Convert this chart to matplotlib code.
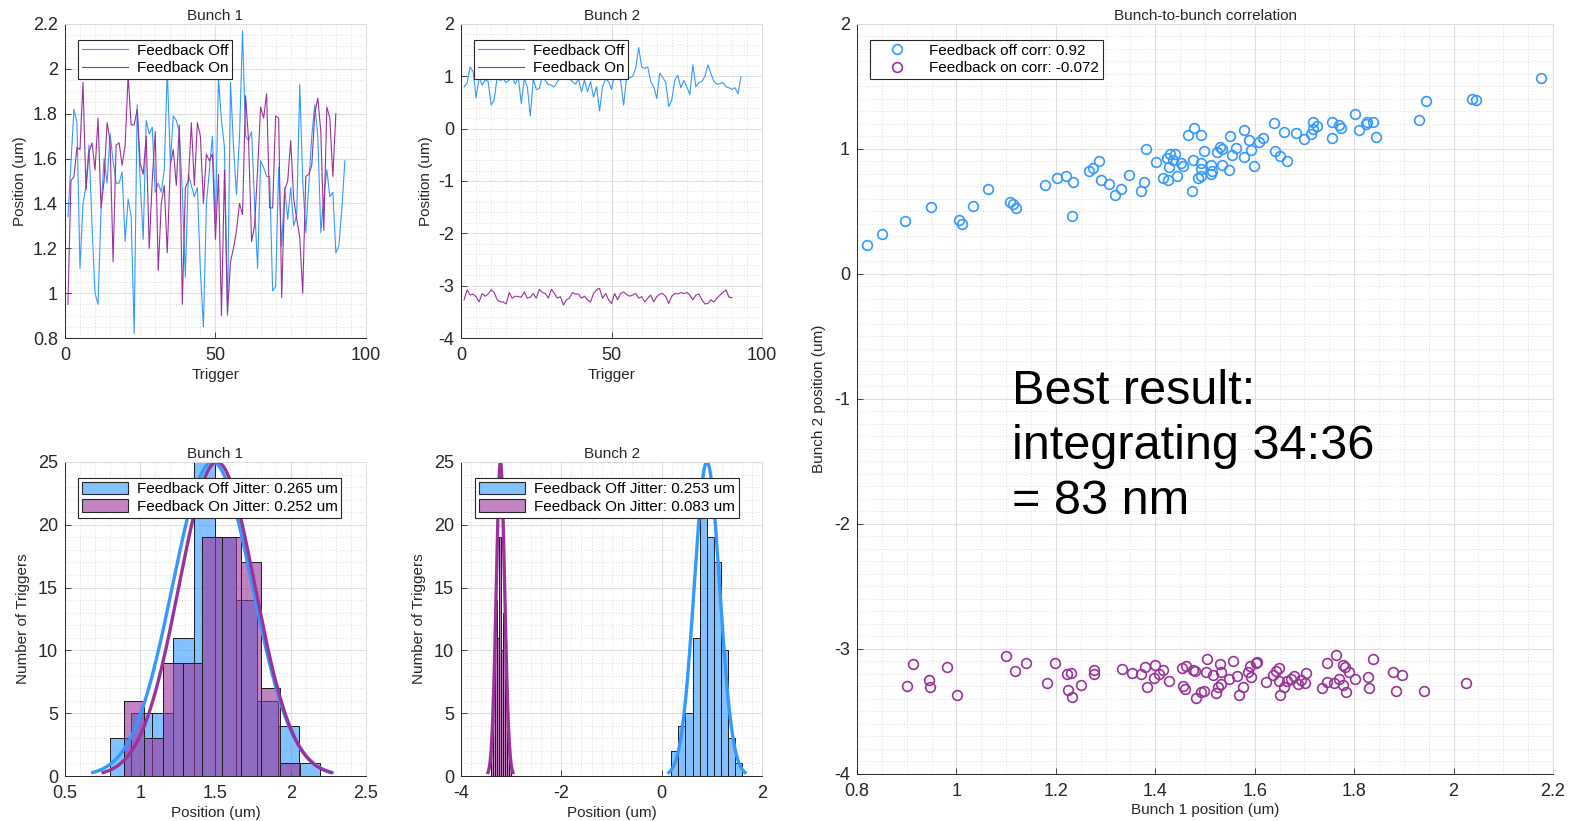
import numpy as np
import matplotlib
matplotlib.use('Agg')
import matplotlib.pyplot as plt
from matplotlib.ticker import MultipleLocator, FormatStrFormatter
from matplotlib.patches import Patch

plt.rcParams['font.family'] = ['Liberation Sans', 'DejaVu Sans']
plt.rcParams['axes.unicode_minus'] = False

# ---------------- data ----------------
# bunch 1 position per trigger (um)
b1_off = [1.34, 1.58, 1.82, 1.76, 1.11, 1.40, 1.48, 1.66, 1.30, 1.00,
          0.95, 1.37, 1.60, 1.49, 1.71, 1.59, 1.49, 1.49, 1.54, 1.23,
          1.42, 1.34, 0.82, 1.84, 1.50, 1.24, 1.77, 1.71, 1.74, 1.45,
          1.49, 1.45, 1.55, 2.00, 1.58, 1.79, 1.77, 1.72, 1.45, 1.07,
          1.53, 1.48, 1.43, 1.47, 1.10, 0.85, 1.40, 1.55, 1.70, 1.31,
          1.96, 1.77, 1.65, 0.90, 1.94, 1.65, 1.44, 1.70, 2.17, 1.70,
          1.68, 1.72, 1.40, 1.11, 1.59, 1.56, 1.52, 1.52, 1.01, 1.03,
          1.56, 1.21, 1.47, 1.33, 1.47, 1.30, 1.35, 1.93, 1.50, 1.27,
          1.48, 1.70, 1.84, 1.70, 1.27, 1.43, 1.55, 1.43, 1.45, 1.18,
          1.21, 1.38, 1.59]
b1_on = [0.95, 1.50, 1.52, 1.65, 1.64, 1.94, 1.46, 1.63, 1.67, 1.55,
         1.78, 1.38, 1.50, 1.76, 1.68, 1.14, 1.66, 1.67, 1.57, 1.66,
         1.97, 1.75, 1.75, 1.82, 1.58, 1.53, 1.70, 1.20, 1.50, 1.72,
         1.10, 1.40, 1.48, 1.18, 1.57, 1.64, 1.48, 1.75, 0.95, 1.47,
         1.50, 1.76, 1.48, 1.76, 1.70, 1.40, 1.62, 1.59, 1.62, 1.24,
         1.53, 0.90, 1.55, 0.91, 1.14, 1.20, 1.28, 1.40, 1.35, 1.88,
         1.68, 1.23, 1.30, 1.55, 1.83, 1.78, 1.89, 1.38, 1.38, 1.79,
         1.78, 0.98, 1.46, 1.50, 1.68, 1.42, 1.33, 1.25, 1.00, 1.52,
         1.53, 1.57, 1.80, 1.87, 1.72, 1.28, 1.83, 1.78, 1.52, 1.80]

# bunch 2 position per trigger (um)
b2_off = [0.80, 0.87, 1.18, 1.09, 0.59, 0.99, 0.83, 0.93, 0.90, 0.45,
          0.55, 0.99, 0.92, 0.95, 0.88, 0.93, 1.00, 0.85, 0.98, 0.48,
          0.95, 0.80, 0.24, 0.95, 0.75, 0.76, 1.02, 0.92, 0.84, 0.83,
          0.80, 0.90, 0.97, 1.05, 1.00, 0.95, 0.90, 0.85, 0.95, 0.70,
          0.93, 0.70, 0.90, 0.60, 0.80, 0.34, 0.80, 0.95, 0.90, 0.75,
          1.05, 0.96, 0.92, 0.45, 0.98, 0.97, 1.00, 1.15, 1.55, 1.18,
          1.15, 1.18, 0.90, 0.80, 0.58, 1.06, 0.98, 0.88, 0.42, 0.55,
          0.93, 1.02, 0.78, 0.92, 0.80, 0.65, 1.22, 0.80, 0.88, 0.90,
          1.00, 1.22, 1.05, 0.90, 0.85, 0.86, 0.88, 0.80, 0.78, 0.75,
          0.78, 0.67, 0.99]
b2_on = [-3.27, -3.08, -3.18, -3.16, -3.21, -3.31, -3.15, -3.20, -3.16, -3.08,
         -3.13, -3.27, -3.31, -3.31, -3.35, -3.13, -3.24, -3.20, -3.21, -3.22,
         -3.12, -3.24, -3.22, -3.15, -3.24, -3.07, -3.13, -3.15, -3.24, -3.07,
         -3.15, -3.24, -3.21, -3.37, -3.27, -3.24, -3.13, -3.16, -3.16, -3.24,
         -3.20, -3.27, -3.31, -3.15, -3.08, -3.05, -3.24, -3.15, -3.27, -3.34,
         -3.15, -3.27, -3.15, -3.12, -3.17, -3.20, -3.18, -3.15, -3.24, -3.21,
         -3.31, -3.24, -3.18, -3.31, -3.21, -3.16, -3.15, -3.21, -3.34, -3.20,
         -3.15, -3.16, -3.13, -3.15, -3.13, -3.18, -3.27, -3.18, -3.16, -3.27,
         -3.35, -3.34, -3.27, -3.31, -3.24, -3.18, -3.13, -3.08, -3.22, -3.23]

# histogram bins (edges) and counts
h1_off_edges = [0.797, 0.937, 1.076, 1.216, 1.355, 1.495, 1.634, 1.774, 1.913, 2.053, 2.192]
h1_off_counts = [3, 5, 5, 11, 25, 19, 14, 6, 4, 1]
h1_on_edges = [0.894, 1.023, 1.153, 1.282, 1.412, 1.541, 1.670, 1.800, 1.929, 2.059]
h1_on_counts = [6, 3, 9, 9, 19, 19, 17, 7, 1]
h2_off_edges = [0.19, 0.331, 0.472, 0.613, 0.754, 0.895, 1.036, 1.177, 1.318, 1.459, 1.60]
h2_off_counts = [2, 4, 5, 11, 21, 19, 17, 10, 3, 1]
h2_on_edges = [-3.40, -3.36, -3.32, -3.28, -3.24, -3.20, -3.16, -3.12, -3.08, -3.04, -3.00]
h2_on_counts = [2, 8, 14, 11, 19, 10, 13, 8, 4, 1]

# gaussian fit parameters (mean, jitter)
fit1_off = (1.48, 0.265)
fit1_on = (1.51, 0.252)
fit2_off = (0.90, 0.253)
fit2_on = (-3.215, 0.083)
fit_peak = 25

# bunch-to-bunch scatter
sc_off_x = [0.821, 0.851, 0.896, 0.949, 1.005, 1.012, 1.034, 1.063, 1.108, 1.114,
            1.120, 1.179, 1.202, 1.221, 1.234, 1.232, 1.267, 1.274, 1.286, 1.290,
            1.307, 1.318, 1.330, 1.347, 1.371, 1.377, 1.381, 1.401, 1.416, 1.425,
            1.423, 1.429, 1.427, 1.436, 1.440, 1.444, 1.451, 1.455, 1.466, 1.477,
            1.475, 1.473, 1.491, 1.497, 1.492, 1.492, 1.486, 1.492, 1.512, 1.515,
            1.513, 1.524, 1.531, 1.535, 1.534, 1.549, 1.550, 1.554, 1.562, 1.578,
            1.579, 1.589, 1.592, 1.599, 1.608, 1.616, 1.639, 1.641, 1.650, 1.664,
            1.658, 1.684, 1.699, 1.714, 1.718, 1.717, 1.725, 1.756, 1.756, 1.770,
            1.774, 1.801, 1.809, 1.823, 1.825, 1.838, 1.844, 1.930, 1.944, 2.037,
            2.046, 2.175]
sc_off_y = [0.229, 0.323, 0.427, 0.534, 0.433, 0.401, 0.547, 0.678, 0.577, 0.561,
            0.529, 0.713, 0.769, 0.782, 0.734, 0.465, 0.820, 0.844, 0.903, 0.750,
            0.721, 0.630, 0.678, 0.788, 0.660, 0.734, 1.001, 0.895, 0.766, 0.750,
            0.927, 0.961, 0.852, 0.911, 0.961, 0.785, 0.884, 0.860, 1.114, 1.170,
            0.913, 0.665, 1.114, 0.985, 0.884, 0.838, 0.764, 0.782, 0.868, 0.822,
            0.798, 0.977, 1.012, 1.001, 0.870, 0.833, 1.103, 0.953, 1.004, 1.151,
            0.932, 1.068, 0.988, 0.860, 1.055, 1.089, 1.204, 0.980, 0.943, 0.903,
            1.132, 1.127, 1.076, 1.121, 1.156, 1.218, 1.186, 1.215, 1.087, 1.188,
            1.170, 1.282, 1.148, 1.196, 1.218, 1.215, 1.095, 1.228, 1.380, 1.399,
            1.391, 1.570]
sc_on_x = [0.901, 0.913, 0.945, 0.947, 0.981, 1.001, 1.099, 1.118, 1.140, 1.183,
           1.198, 1.223, 1.230, 1.225, 1.233, 1.250, 1.276, 1.276, 1.333, 1.353,
           1.380, 1.372, 1.383, 1.398, 1.399, 1.408, 1.415, 1.427, 1.454, 1.461,
           1.455, 1.459, 1.476, 1.479, 1.482, 1.492, 1.497, 1.504, 1.501, 1.517,
           1.522, 1.526, 1.531, 1.532, 1.532, 1.549, 1.556, 1.565, 1.569, 1.576,
           1.587, 1.590, 1.592, 1.602, 1.605, 1.623, 1.637, 1.643, 1.648, 1.649,
           1.651, 1.658, 1.665, 1.672, 1.680, 1.688, 1.694, 1.703, 1.701, 1.736,
           1.746, 1.746, 1.759, 1.764, 1.770, 1.778, 1.781, 1.778, 1.784, 1.790,
           1.802, 1.827, 1.830, 1.838, 1.879, 1.884, 1.896, 1.941, 2.026]
sc_on_y = [-3.298, -3.122, -3.250, -3.308, -3.148, -3.367, -3.060, -3.175, -3.116, -3.276,
           -3.116, -3.202, -3.196, -3.327, -3.381, -3.287, -3.172, -3.204, -3.159, -3.194,
           -3.143, -3.202, -3.303, -3.236, -3.127, -3.204, -3.167, -3.258, -3.156, -3.138,
           -3.300, -3.317, -3.170, -3.180, -3.389, -3.346, -3.335, -3.079, -3.186, -3.210,
           -3.349, -3.308, -3.122, -3.183, -3.282, -3.244, -3.098, -3.218, -3.365, -3.308,
           -3.188, -3.138, -3.228, -3.111, -3.103, -3.263, -3.210, -3.175, -3.154, -3.260,
           -3.370, -3.308, -3.255, -3.244, -3.220, -3.282, -3.250, -3.194, -3.274, -3.314,
           -3.116, -3.263, -3.276, -3.052, -3.244, -3.130, -3.143, -3.290, -3.343, -3.186,
           -3.244, -3.223, -3.311, -3.079, -3.186, -3.335, -3.207, -3.340, -3.274]

corr_off = 0.92
corr_on = -0.072
jit1_off, jit1_on = 0.265, 0.252
jit2_off, jit2_on = 0.253, 0.083

# ---------------- styling ----------------
BLUE = '#3399ff'
PURPLE = '#993399'
TXT = '#262626'
FS_TICK = 13
FS_LAB = 11

fig = plt.figure(figsize=(15.72, 8.21), dpi=100)


def style(ax, xmaj, xmin, ymaj, ymin):
    ax.xaxis.set_major_locator(MultipleLocator(xmaj))
    ax.xaxis.set_minor_locator(MultipleLocator(xmin))
    ax.yaxis.set_major_locator(MultipleLocator(ymaj))
    ax.yaxis.set_minor_locator(MultipleLocator(ymin))
    ax.xaxis.set_major_formatter(FormatStrFormatter('%g'))
    ax.yaxis.set_major_formatter(FormatStrFormatter('%g'))
    ax.grid(True, which='major', color='#dedede', lw=0.8)
    ax.grid(True, which='minor', color='#d0d0d0', ls=(0, (1, 2.5)), lw=0.6)
    ax.set_axisbelow(True)
    ax.tick_params(which='major', direction='in', length=4, width=0.6,
                   labelsize=FS_TICK, colors=TXT)
    ax.tick_params(axis='x', which='major', pad=6.5)
    ax.tick_params(axis='y', which='major', pad=5)
    ax.tick_params(which='minor', length=0)
    for s in ['left', 'bottom']:
        ax.spines[s].set_color(TXT)
        ax.spines[s].set_linewidth(0.7)
    for s in ['top', 'right']:
        ax.spines[s].set_color('#dcdcdc')
        ax.spines[s].set_linewidth(0.7)


def leg(ax, handles, labels, x, y, **kw):
    l = ax.legend(handles, labels, loc='upper left', bbox_to_anchor=(x, y),
                  fontsize=FS_LAB, frameon=True, fancybox=False, framealpha=1,
                  edgecolor=TXT, borderpad=0.25, labelspacing=0.2,
                  borderaxespad=0, handletextpad=0.6, **kw)
    l.get_frame().set_linewidth(0.8)
    return l


def gauss(mu, sig, peak):
    xs = np.linspace(mu - 3 * sig, mu + 3 * sig, 200)
    return xs, peak * np.exp(-0.5 * ((xs - mu) / sig) ** 2)


# ---- Bunch 1 time series ----
ax1 = fig.add_axes([0.0413, 0.5883, 0.1915, 0.3825])
l1, = ax1.plot(np.arange(1, len(b1_off) + 1), b1_off, color=BLUE, lw=0.8)
l2, = ax1.plot(np.arange(1, len(b1_on) + 1), b1_on, color=PURPLE, lw=0.8)
ax1.set_xlim(0, 100)
ax1.set_ylim(0.8, 2.2)
style(ax1, 50, 5, 0.2, 0.05)
ax1.set_title('Bunch 1', fontsize=FS_LAB, color=TXT, pad=3)
ax1.set_xlabel('Trigger', fontsize=FS_LAB, color=TXT, labelpad=3)
ax1.set_ylabel('Position (um)', fontsize=FS_LAB, color=TXT, labelpad=4)
leg(ax1, [l1, l2], ['Feedback Off', 'Feedback On'], 0.043, 0.949, handlelength=3)

# ---- Bunch 2 time series ----
ax2 = fig.add_axes([0.2933, 0.5883, 0.1915, 0.3825])
m1, = ax2.plot(np.arange(1, len(b2_off) + 1), b2_off, color=BLUE, lw=0.8)
m2, = ax2.plot(np.arange(1, len(b2_on) + 1), b2_on, color=PURPLE, lw=0.8)
ax2.set_xlim(0, 100)
ax2.set_ylim(-4, 2)
style(ax2, 50, 5, 1, 0.2)
ax2.set_title('Bunch 2', fontsize=FS_LAB, color=TXT, pad=3)
ax2.set_xlabel('Trigger', fontsize=FS_LAB, color=TXT, labelpad=3)
ax2.set_ylabel('Position (um)', fontsize=FS_LAB, color=TXT, labelpad=4)
leg(ax2, [m1, m2], ['Feedback Off', 'Feedback On'], 0.043, 0.949, handlelength=3)


def hist(ax, edges, counts, color):
    e = np.array(edges)
    ax.bar(e[:-1], counts, width=np.diff(e), align='edge', color=color,
           edgecolor='none')
    ax.bar(e[:-1], counts, width=np.diff(e), align='edge', fill=False,
           edgecolor='#1a1a1a', lw=0.7)


HB = (0.2, 0.6, 1.0, 0.6)
HP = (0.6, 0.2, 0.6, 0.6)

# ---- Bunch 1 histogram ----
ax3 = fig.add_axes([0.0413, 0.0548, 0.1915, 0.3825])
hist(ax3, h1_off_edges, h1_off_counts, HB)
hist(ax3, h1_on_edges, h1_on_counts, HP)
ax3.plot(*gauss(*fit1_off, fit_peak), color=BLUE, lw=2.4)
ax3.plot(*gauss(*fit1_on, fit_peak), color=PURPLE, lw=2.4)
ax3.set_xlim(0.5, 2.5)
ax3.set_ylim(0, 25)
style(ax3, 0.5, 0.1, 5, 1)
ax3.set_title('Bunch 1', fontsize=FS_LAB, color=TXT, pad=3)
ax3.set_xlabel('Position (um)', fontsize=FS_LAB, color=TXT, labelpad=3)
ax3.set_ylabel('Number of Triggers', fontsize=FS_LAB, color=TXT, labelpad=6)
leg(ax3, [Patch(facecolor=HB, edgecolor=TXT, lw=0.8), Patch(facecolor=HP, edgecolor=TXT, lw=0.8)],
    ['Feedback Off Jitter: %.3f um' % jit1_off, 'Feedback On Jitter: %.3f um' % jit1_on],
    0.043, 0.949, handlelength=3, handleheight=0.9)

# ---- Bunch 2 histogram ----
ax4 = fig.add_axes([0.2933, 0.0548, 0.1915, 0.3825])
hist(ax4, h2_off_edges, h2_off_counts, HB)
hist(ax4, h2_on_edges, h2_on_counts, HP)
ax4.plot(*gauss(*fit2_off, fit_peak), color=BLUE, lw=2.4)
ax4.plot(*gauss(*fit2_on, fit_peak), color=PURPLE, lw=2.4)
ax4.set_xlim(-4, 2)
ax4.set_ylim(0, 25)
style(ax4, 2, 0.2, 5, 1)
ax4.set_title('Bunch 2', fontsize=FS_LAB, color=TXT, pad=3)
ax4.set_xlabel('Position (um)', fontsize=FS_LAB, color=TXT, labelpad=3)
ax4.set_ylabel('Number of Triggers', fontsize=FS_LAB, color=TXT, labelpad=6)
leg(ax4, [Patch(facecolor=HB, edgecolor=TXT, lw=0.8), Patch(facecolor=HP, edgecolor=TXT, lw=0.8)],
    ['Feedback Off Jitter: %.3f um' % jit2_off, 'Feedback On Jitter: %.3f um' % jit2_on],
    0.047, 0.949, handlelength=3, handleheight=0.9)

# ---- correlation ----
ax5 = fig.add_axes([0.5452, 0.0573, 0.4427, 0.9135])
s1, = ax5.plot(sc_off_x, sc_off_y, 'o', ms=7, mfc='none', mec=BLUE, mew=1.2)
s2, = ax5.plot(sc_on_x, sc_on_y, 'o', ms=7, mfc='none', mec=PURPLE, mew=1.2)
ax5.set_xlim(0.8, 2.2)
ax5.set_ylim(-4, 2)
style(ax5, 0.2, 0.05, 1, 0.1)
ax5.set_title('Bunch-to-bunch correlation', fontsize=FS_LAB, color=TXT, pad=3)
ax5.set_xlabel('Bunch 1 position (um)', fontsize=FS_LAB, color=TXT, labelpad=2)
ax5.set_ylabel('Bunch 2 position (um)', fontsize=FS_LAB, color=TXT, labelpad=6)
leg(ax5, [s1, s2], ['Feedback off corr: %g' % corr_off, 'Feedback on corr: %g' % corr_on],
    0.0187, 0.9786, handlelength=3)

fig.text(0.6438, 0.550, 'Best result:\nintegrating 34:36\n= 83 nm', fontsize=35,
         color='black', va='top', ha='left', linespacing=1.28)

fig.savefig('out.png', dpi=100)
